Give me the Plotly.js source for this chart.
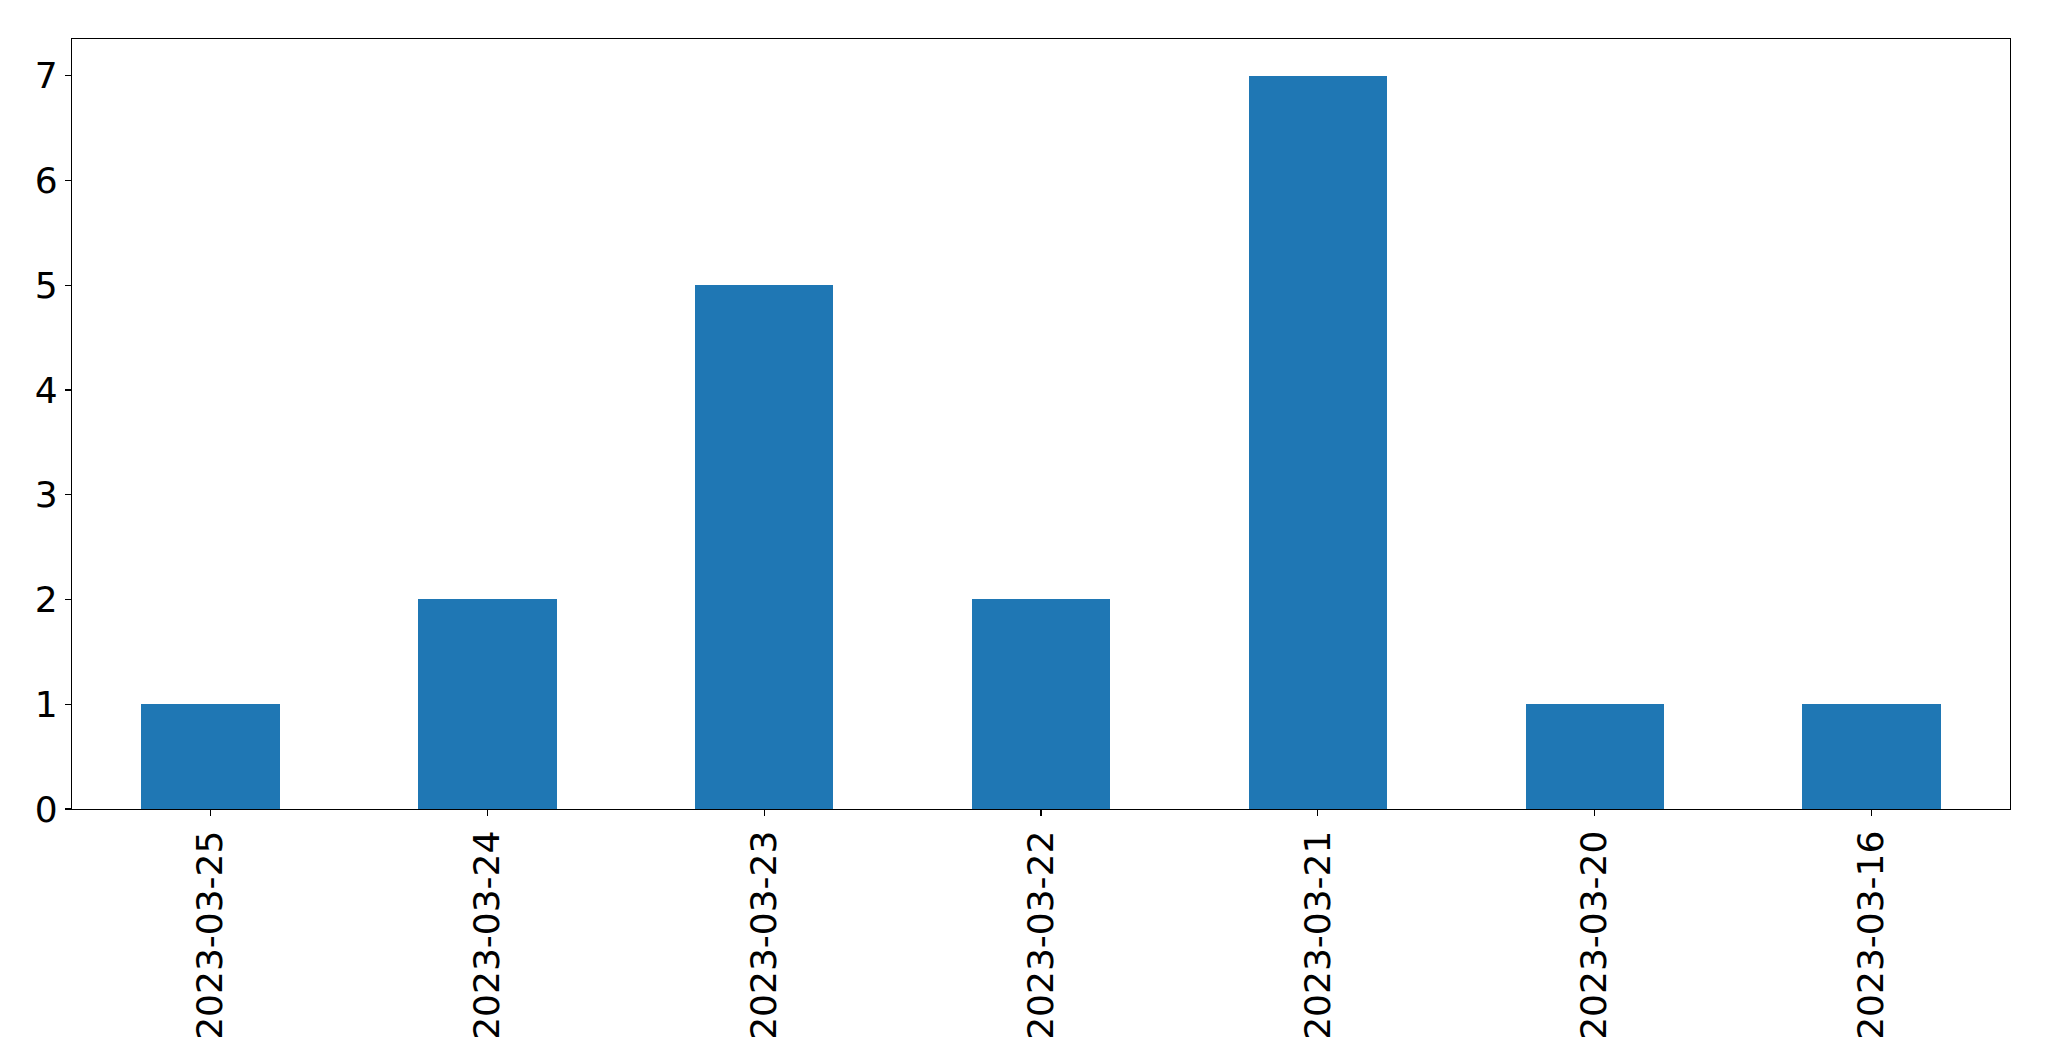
<!DOCTYPE html>
<html>
<head>
<meta charset="utf-8">
<script src="https://cdn.plot.ly/plotly-3.0.1.min.js"></script>
<style>html,body{margin:0;padding:0;background:#fff;}</style>
</head>
<body>
<div id="chart" style="width:2049px;height:1061px;"></div>
<script>
const dates = ["2023-03-25","2023-03-24","2023-03-23","2023-03-22","2023-03-21","2023-03-20","2023-03-16"];
const counts = [1, 2, 5, 2, 7, 1, 1];
const yTicks = [0, 1, 2, 3, 4, 5, 6, 7];

const trace = {
  type: "bar",
  x: dates,
  y: counts,
  width: 0.5,
  marker: {color: "#1f77b4", line: {width: 0}},
  hoverinfo: "x+y"
};

const font = {family: "DejaVu Sans, sans-serif", size: 36, color: "#000"};

const layout = {
  width: 2049,
  height: 1061,
  margin: {l: 72, r: 39, t: 39, b: 252, pad: 0},
  paper_bgcolor: "#fff",
  plot_bgcolor: "#fff",
  showlegend: false,
  bargap: 0,
  xaxis: {
    type: "category",
    range: [-0.5, 6.5],
    tickangle: -90,
    tickfont: font,
    ticks: "outside",
    ticklen: 6,
    tickwidth: 1.2,
    tickcolor: "#000",
    showline: true,
    linecolor: "#000",
    linewidth: 1.2,
    mirror: true,
    showgrid: false,
    zeroline: false,
    ticklabelstandoff: 0
  },
  yaxis: {
    range: [0, 7.35],
    tickvals: yTicks,
    ticktext: yTicks.map(String),
    tickfont: font,
    ticks: "outside",
    ticklen: 6,
    tickwidth: 1.2,
    tickcolor: "#000",
    showline: true,
    linecolor: "#000",
    linewidth: 1.2,
    mirror: true,
    showgrid: false,
    zeroline: false
  }
};

Plotly.newPlot("chart", [trace], layout, {displayModeBar: false, staticPlot: true});
</script>
</body>
</html>
